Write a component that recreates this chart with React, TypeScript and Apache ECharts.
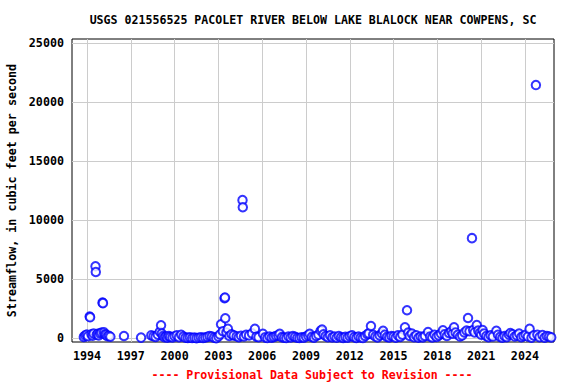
import React, { useEffect, useRef } from "react";
import * as echarts from "echarts";

const titleText = "USGS 021556525 PACOLET RIVER BELOW LAKE BLALOCK NEAR COWPENS, SC";
const yAxisTitle = "Streamflow, in cubic feet per second";
const footerText = "---- Provisional Data Subject to Revision ----";

const xTicks = [1994, 1997, 2000, 2003, 2006, 2009, 2012, 2015, 2018, 2021, 2024];
const yTicks = [0, 5000, 10000, 15000, 20000, 25000];

// [decimal year, streamflow cfs]
const flow1990s: [number, number][] = [
  [1993.78, 120], [1993.88, 250], [1993.98, 310], [1994.06, 180], [1994.18, 1850], [1994.21, 1780],
  [1994.3, 350], [1994.38, 220], [1994.45, 400], [1994.58, 6100], [1994.6, 5620], [1994.66, 300],
  [1994.73, 380], [1994.8, 250], [1994.9, 420], [1995.0, 480], [1995.06, 3020], [1995.09, 2980],
  [1995.16, 520], [1995.22, 350], [1995.3, 300], [1995.4, 180], [1995.5, 220], [1995.6, 140],
  [1996.53, 200], [1997.7, 60],
  [1998.4, 250], [1998.55, 180], [1998.7, 120], [1998.85, 300], [1998.98, 560], [1999.07, 1110],
  [1999.12, 400], [1999.2, 200], [1999.3, 90], [1999.4, 150], [1999.5, 60], [1999.6, 200],
  [1999.7, 120], [1999.85, 80],
];

const flow2000s: [number, number][] = [
  [2000.0, 180], [2000.15, 250], [2000.3, 100], [2000.45, 300], [2000.6, 150], [2000.75, 60],
  [2000.9, 40], [2001.05, 80], [2001.2, 30], [2001.35, 60], [2001.5, 20], [2001.65, 50],
  [2001.8, 90], [2001.95, 40], [2002.1, 70], [2002.25, 120], [2002.4, 200], [2002.55, 150],
  [2002.7, 60], [2002.85, 20], [2003.0, 150], [2003.1, 320], [2003.18, 1190], [2003.3, 600],
  [2003.42, 3400], [2003.45, 3460], [2003.47, 1700], [2003.55, 500], [2003.65, 800], [2003.75, 200],
  [2003.9, 350], [2004.05, 250], [2004.25, 180], [2004.4, 100], [2004.55, 220], [2004.65, 11700],
  [2004.67, 11100], [2004.75, 150], [2004.9, 300], [2005.1, 250], [2005.3, 420], [2005.5, 800],
  [2005.6, 140], [2005.75, 100], [2006.05, 380], [2006.2, 80], [2006.35, 30], [2006.5, 150],
  [2006.65, 60], [2006.8, 120], [2006.95, 200], [2007.1, 250], [2007.2, 380], [2007.35, 100],
  [2007.5, 60], [2007.65, 30], [2007.8, 150], [2007.95, 80], [2008.1, 200], [2008.25, 120],
  [2008.4, 50], [2008.55, 30], [2008.7, 90], [2008.85, 60], [2009.0, 150], [2009.15, 250],
  [2009.25, 380], [2009.4, 120], [2009.55, 60], [2009.7, 200], [2009.85, 300],
];

const flow2010s: [number, number][] = [
  [2010.0, 640], [2010.1, 750], [2010.2, 350], [2010.35, 200], [2010.5, 100], [2010.65, 250],
  [2010.8, 80], [2010.95, 150], [2011.1, 50], [2011.25, 200], [2011.4, 90], [2011.55, 40],
  [2011.7, 120], [2011.85, 60], [2012.0, 180], [2012.15, 250], [2012.3, 100], [2012.45, 40],
  [2012.6, 150], [2012.75, 70], [2012.9, 30], [2013.05, 200], [2013.2, 350], [2013.3, 420],
  [2013.45, 1040], [2013.6, 300], [2013.75, 150], [2013.9, 80], [2014.05, 250], [2014.2, 400],
  [2014.28, 640], [2014.4, 300], [2014.55, 120], [2014.7, 80], [2014.85, 200], [2015.0, 150],
  [2015.15, 60], [2015.3, 250], [2015.45, 120], [2015.6, 300], [2015.78, 930], [2015.92, 2380],
  [2016.0, 480], [2016.1, 200], [2016.25, 400], [2016.4, 100], [2016.55, 250], [2016.7, 50],
  [2016.85, 150], [2017.0, 80], [2017.15, 200], [2017.36, 530], [2017.5, 150], [2017.65, 80],
  [2017.8, 300], [2017.95, 120], [2018.1, 250], [2018.25, 400], [2018.38, 680], [2018.5, 350],
  [2018.65, 200], [2018.8, 450], [2018.95, 600], [2019.05, 400], [2019.14, 930], [2019.25, 500],
  [2019.4, 300], [2019.55, 150], [2019.7, 250], [2019.85, 500],
];

const flow2020s: [number, number][] = [
  [2020.0, 650], [2020.1, 1720], [2020.2, 600], [2020.37, 8480], [2020.45, 700], [2020.55, 500],
  [2020.7, 1130], [2020.8, 650], [2020.9, 450], [2021.0, 300], [2021.1, 700], [2021.2, 400],
  [2021.35, 200], [2021.5, 100], [2021.65, 250], [2021.8, 150], [2022.04, 640], [2022.15, 300],
  [2022.3, 120], [2022.45, 50], [2022.6, 200], [2022.75, 100], [2022.9, 300], [2023.0, 450],
  [2023.15, 350], [2023.3, 150], [2023.45, 250], [2023.6, 400], [2023.75, 100], [2023.9, 200],
  [2024.05, 300], [2024.2, 150], [2024.32, 800], [2024.45, 60], [2024.6, 250], [2024.75, 21440],
  [2024.85, 300], [2025.0, 100], [2025.2, 280], [2025.35, 60], [2025.5, 200], [2025.65, 150],
  [2025.8, 80],
];

const FONT = "'DejaVu Sans Mono', 'Liberation Mono', monospace";

export default function App() {
  const ref = useRef<HTMLDivElement>(null);
  useEffect(() => {
    if (!ref.current) return;
    const chart = echarts.init(ref.current, null, { renderer: "svg" });
    const data = [...flow1990s, ...flow2000s, ...flow2010s, ...flow2020s];
    chart.setOption({
      animation: false,
      backgroundColor: "#ffffff",
      grid: {
        left: 72,
        right: 22,
        top: 39,
        bottom: 42,
        show: true,
        containLabel: false,
        outerBoundsMode: "none",
        borderColor: "#000000",
        borderWidth: 1,
        backgroundColor: "#ffffff",
      },
      title: {
        text: titleText,
        left: 308,
        top: 9,
        textAlign: "center",
        textStyle: { fontFamily: FONT, fontWeight: "bold", fontSize: 11.6, color: "#000" },
      },
      graphic: [
        {
          type: "text",
          x: 312,
          y: 375,
          style: {
            text: footerText,
            fill: "#ff0000",
            font: `bold 11.6px ${FONT}`,
            textAlign: "center",
            textVerticalAlign: "middle",
          },
        },
      ],
      xAxis: {
        type: "value",
        min: 1992.97,
        max: 2025.99,
        axisLine: { show: false },
        axisTick: { show: false, customValues: xTicks },
        axisLabel: {
          customValues: xTicks,
          margin: 8,
          formatter: (v: number) => String(Math.round(v)),
          fontFamily: FONT,
          fontWeight: "bold",
          fontSize: 11.7,
          color: "#000",
        },
        splitLine: { show: true, lineStyle: { color: "#cccccc", width: 1 } },
      },
      yAxis: {
        type: "value",
        min: -310,
        max: 25340,
        name: yAxisTitle,
        nameLocation: "middle",
        nameGap: 52,
        nameRotate: 90,
        nameTextStyle: { fontFamily: FONT, fontWeight: "bold", fontSize: 11.7, color: "#000" },
        axisLine: { show: false },
        axisTick: { show: false, customValues: yTicks },
        axisLabel: {
          customValues: yTicks,
          margin: 8,
          formatter: (v: number) => String(Math.round(v)),
          fontFamily: FONT,
          fontWeight: "bold",
          fontSize: 11.7,
          color: "#000",
        },
        splitLine: { show: true, lineStyle: { color: "#cccccc", width: 1 } },
      },
      series: [
        {
          type: "scatter",
          data,
          symbol: "emptyCircle",
          symbolSize: 8.5,
          itemStyle: { color: "#0000ff", borderColor: "#0000ff", borderWidth: 1.4 },
        },
      ],
    });
    return () => chart.dispose();
  }, []);
  return <div ref={ref} style={{ width: 576, height: 384, position: "absolute", left: 0, top: 0 }} />;
}
